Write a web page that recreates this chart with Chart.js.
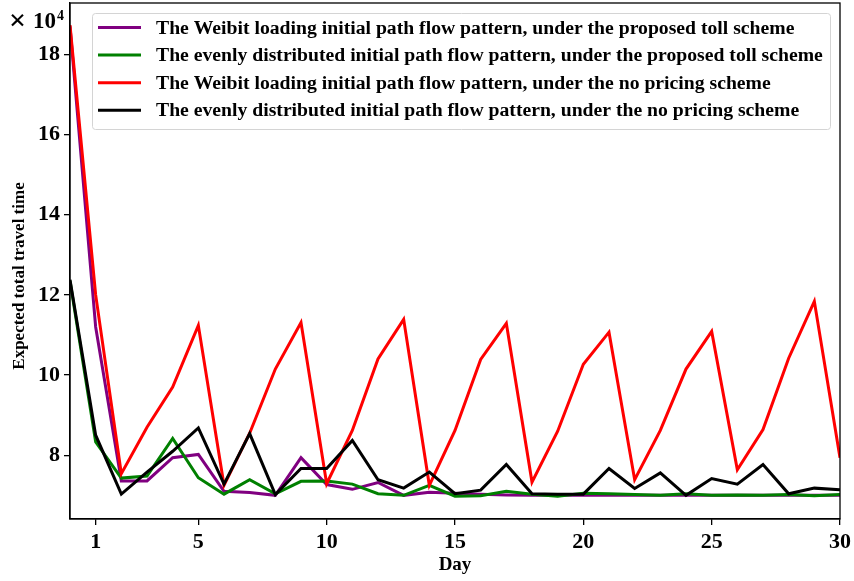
<!DOCTYPE html>
<html>
<head>
<meta charset="utf-8">
<script src="https://cdn.jsdelivr.net/npm/chart.js@4"></script>
<style>
  html, body { margin: 0; padding: 0; background: #fff; }
  #wrap { width: 854px; height: 581px; }
</style>
</head>
<body>
<div id="wrap"><canvas id="c" width="854" height="581"></canvas></div>
<script>
const days = Array.from({ length: 31 }, (_, i) => i);
const dayTicks = [1, 5, 10, 15, 20, 25, 30];
const travelTicks = [8, 10, 12, 14, 16, 18];

// expected total travel time, in units of 10^4
const weibitToll = [18.70, 11.20, 7.36, 7.36, 7.94, 8.02, 7.10, 7.07, 7.00, 7.94, 7.27, 7.15, 7.32, 7.00, 7.08, 7.05, 7.03, 7.01, 7.00, 7.00, 7.00, 7.00, 7.00, 7.00, 7.00, 7.00, 7.00, 7.00, 7.00, 7.00, 7.00];
const evenToll = [12.35, 8.33, 7.43, 7.48, 8.42, 7.44, 7.03, 7.39, 7.04, 7.35, 7.36, 7.28, 7.04, 7.00, 7.25, 6.98, 6.99, 7.10, 7.03, 6.98, 7.05, 7.04, 7.02, 7.00, 7.04, 7.00, 7.01, 7.00, 7.02, 6.99, 7.02];
const weibitNoPricing = [18.73, 12.00, 7.54, 8.70, 9.70, 11.24, 7.25, 8.55, 10.15, 11.31, 7.29, 8.62, 10.40, 11.39, 7.25, 8.62, 10.39, 11.29, 7.33, 8.60, 10.27, 11.07, 7.39, 8.62, 10.15, 11.09, 7.64, 8.64, 10.42, 11.84, 7.94];
const evenNoPricing = [12.38, 8.50, 7.03, 7.58, 8.10, 8.68, 7.28, 8.54, 7.02, 7.67, 7.67, 8.37, 7.39, 7.18, 7.58, 7.04, 7.13, 7.77, 7.04, 7.03, 7.03, 7.67, 7.17, 7.56, 7.00, 7.42, 7.28, 7.77, 7.04, 7.18, 7.14];

const seriesLabels = [
  "The Weibit loading initial path flow pattern, under the proposed toll scheme",
  "The evenly distributed initial path flow pattern, under the proposed toll scheme",
  "The Weibit loading initial path flow pattern, under the no pricing scheme",
  "The evenly distributed initial path flow pattern, under the no pricing scheme"
];
const seriesColors = ["#800080", "#008000", "#ff0000", "#000000"];
const seriesData = [weibitToll, evenToll, weibitNoPricing, evenNoPricing];

const SERIF = "'Liberation Serif', 'Times New Roman', serif";

// frame on all four sides, the legend box and the axis annotations
const extras = {
  id: "extras",
  afterDatasetsDraw(chart) {
    const { ctx, chartArea: a } = chart;
    ctx.save();
    ctx.strokeStyle = "#000";
    ctx.lineWidth = 1.3;
    ctx.strokeRect(a.left, a.top, a.right - a.left, a.bottom - a.top);

    // legend
    const bx = 92.5, by = 13, bw = 738, bh = 116;
    ctx.fillStyle = "rgba(255,255,255,0.85)";
    ctx.strokeStyle = "#d4d4d4";
    ctx.lineWidth = 1;
    ctx.beginPath();
    ctx.roundRect(bx, by + 0.5, bw, bh, 3);
    ctx.fill();
    ctx.stroke();
    ctx.font = "bold 19.7px " + SERIF;
    ctx.textBaseline = "middle";
    ctx.textAlign = "left";
    chart.data.datasets.forEach((ds, i) => {
      const y = 27.5 + i * 27.6;
      ctx.strokeStyle = ds.borderColor;
      ctx.lineWidth = 3;
      ctx.beginPath();
      ctx.moveTo(98, y);
      ctx.lineTo(141, y);
      ctx.stroke();
      ctx.fillStyle = "#000";
      ctx.fillText(ds.label, 156, y + 1);
    });

    // axis titles
    ctx.fillStyle = "#000";
    ctx.font = "bold 19px " + SERIF;
    ctx.textAlign = "center";
    ctx.textBaseline = "middle";
    ctx.fillText("Day", (a.left + a.right) / 2, 565);
    ctx.font = "bold 17px " + SERIF;
    ctx.save();
    ctx.translate(20, (a.top + a.bottom) / 2 + 15);
    ctx.rotate(-Math.PI / 2);
    ctx.fillText("Expected total travel time", 0, 0);
    ctx.restore();

    // scale multiplier
    ctx.textAlign = "left";
    ctx.textBaseline = "alphabetic";
    ctx.font = "bold 30px " + SERIF;
    ctx.fillText("\u00d7", 9, 30);
    ctx.font = "bold 23px " + SERIF;
    ctx.fillText("10", 33, 28);
    ctx.font = "bold 14px " + SERIF;
    ctx.fillText("4", 57, 20);
    ctx.restore();
  }
};

new Chart(document.getElementById("c"), {
  type: "line",
  data: {
    labels: days,
    datasets: seriesData.map((d, i) => ({
      label: seriesLabels[i],
      data: d.map((v, k) => ({ x: days[k], y: v })),
      borderColor: seriesColors[i],
      backgroundColor: seriesColors[i],
      borderWidth: 3,
      pointRadius: 0,
      tension: 0,
      order: 4 - i
    }))
  },
  options: {
    responsive: false,
    animation: false,
    layout: { padding: { left: 0, right: 14, top: 3, bottom: 0 } },
    plugins: { legend: { display: false }, tooltip: { enabled: false } },
    scales: {
      x: {
        type: "linear",
        min: 0,
        max: 30,
        afterBuildTicks: (s) => { s.ticks = dayTicks.map((v) => ({ value: v })); },
        afterFit: (s) => { s.height = 62; s.paddingLeft = 0; s.paddingRight = 0; },
        grid: { display: true, drawOnChartArea: false, drawTicks: true, tickLength: 6, color: "#000", lineWidth: 1.3 },
        border: { display: true, color: "#000", width: 1.3 },
        ticks: { color: "#000", padding: 4, maxRotation: 0, font: { family: SERIF, size: 22, weight: "bold" } }
      },
      y: {
        min: 6.41,
        max: 19.28,
        afterBuildTicks: (s) => { s.ticks = travelTicks.map((v) => ({ value: v })); },
        afterFit: (s) => { s.width = 70; s.paddingTop = 0; s.paddingBottom = 0; },
        grid: { display: true, drawOnChartArea: false, drawTicks: true, tickLength: 6, color: "#000", lineWidth: 1.3 },
        border: { display: true, color: "#000", width: 1.3 },
        ticks: { color: "#000", padding: 4, font: { family: SERIF, size: 22, weight: "bold" } }
      }
    }
  },
  plugins: [extras]
});
</script>
</body>
</html>
